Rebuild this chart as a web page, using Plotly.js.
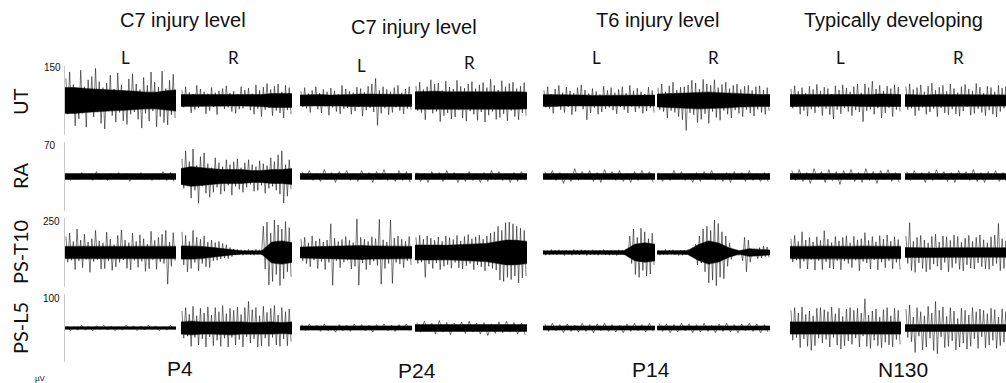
<!DOCTYPE html>
<html><head><meta charset="utf-8">
<script src="https://cdn.plot.ly/plotly-3.0.1.min.js"></script>
<style>html,body{margin:0;padding:0;background:#fff}#chart{width:1006px;height:383px}</style>
</head><body><div id="chart"></div>
<script>
// ---------- data (values in µV) ----------
const groupTitles = ['C7 injury level','C7 injury level','T6 injury level','Typically developing'];
const subjects = ['P4','P24','P14','N130'];
const sides = ['L','R'];
const muscles = ['UT','RA','PS-T10','PS-L5'];
const scaleLabels = ['150','70','250','100'];
const scaleValues = [150,70,250,100];
const unitLabel = 'µV';

// envelope of the dense dark core of each trace (half amplitude), panels: P4 L,R, P24 L,R, P14 L,R, N130 L,R
const utCore = [
  [28,28,26,25,23,22,21,20,18,18,21,23],
  [13,13,12,12,12,12,12,12,13,15,15,15],
  [12,13,13,12,12,13,14,14,14,13,13,13],
  [19,20,20,19,19,19,20,20,19,19,19,18],
  [13,13,12,12,12,11,11,11,11,12,12,12],
  [14,15,16,17,18,18,17,16,14,13,13,13],
  [13,13,12,13,13,12,12,13,13,14,13,13],
  [13,12,12,13,13,13,12,12,13,13,12,12]
];
// successive signed peaks of each trace
const utTrace = [
  [48,-30,62,-25,35,-55,22,-40,66,-28,30,-58,45,-20,52,-36,70,-24,41,-50,28,-62,38,-22,55,-33,25,-47,60,-26,34,-44,21,-52,47,-30,58,-25,36,-41,24,-60,50,-28,33,-45,62,-23,40,-57,29,-35,64,-48,26,-53,44,-31,57,-38],
  [22,-15,30,-12,18,-27,14,-20,33,-16,25,-13,19,-29,15,-22,28,-14,17,-31,21,-13,26,-18,32,-15,16,-24,20,-28,14,-19,30,-17,23,-12,27,-21,15,-30,34,-18,22,-35,29,-20,37,-16,24,-33,31,-22,36,-27,19,-38,33,-21,28,-30],
  [20,-14,28,-17,15,-26,22,-12,30,-19,16,-27,24,-13,19,-32,27,-15,21,-24,14,-29,33,-18,25,-16,20,-30,17,-23,29,-14,26,-34,18,-21,31,-16,36,-25,48,-54,22,-28,30,-17,24,-31,19,-26,28,-15,33,-22,17,-29,25,-18,30,-20],
  [32,-22,40,-26,24,-42,30,-20,45,-28,35,-24,38,-46,22,-33,42,-27,29,-40,25,-36,44,-21,31,-38,27,-45,36,-23,41,-30,26,-43,34,-25,39,-47,28,-32,46,-24,33,-41,23,-37,43,-29,30,-44,37,-22,40,-35,26,-42,31,-27,39,-33],
  [22,-15,30,-18,14,-28,25,-13,33,-20,17,-26,29,-14,21,-31,16,-24,28,-12,34,-19,23,-42,15,-27,26,-16,20,-30,13,-25,31,-18,22,-15,28,-21,17,-29,24,-14,30,-20,16,-27,33,-13,21,-25,27,-17,19,-28,14,-23,29,-16,22,-26],
  [28,-20,36,-24,19,-38,32,-22,40,-26,23,-35,29,-42,30,-65,34,-27,44,-31,38,-48,25,-41,46,-29,36,-50,33,-24,45,-37,28,-43,35,-22,40,-30,26,-38,33,-21,36,-28,24,-35,31,-20,33,-27,22,-34,30,-19,32,-26,23,-30,28,-22],
  [25,-17,32,-14,20,-30,28,-22,16,-34,31,-19,24,-27,35,-15,21,-33,29,-18,26,-31,14,-40,32,-20,23,-29,34,-16,27,-24,19,-33,30,-21,36,-25,17,-46,36,-22,28,-19,42,-30,25,-17,33,-38,21,-27,31,-16,26,-35,34,-20,29,-24],
  [30,-20,36,-17,24,-33,28,-22,34,-15,19,-30,31,-25,38,-18,22,-35,29,-16,33,-27,20,-31,36,-19,26,-29,17,-34,30,-23,35,-14,25,-32,21,-28,37,-18,29,-26,16,-33,31,-21,28,-30,19,-36,33,-24,27,-17,30,-29,22,-31,26,-20]
];
const raCore = [
  [3,3,3,3,3,3,3,3,3,3,3,3],
  [8,10,9,8,7,7,7,6,6,7,7,8],
  [3,3,3,3,3,3,3,3,3,3,3,3],
  [3,3,3,3,3,3,3,3,3,3,3,3],
  [3,3,3,3,3,3,3,3,3,3,3,3],
  [3,3,3,3,3,3,3,3,3,3,3,3],
  [3,3,3,3,3,3,3,3,3,3,3,3],
  [3,3,3,3,3,3,3,3,3,3,3,3]
];
const raTrace = [
  [3,-4,2,-3,4,-2,3,-4,5,-3,2,-4,3,-2,4,-3,3,-5,2,-3,4,-3,2,-4,3,-3,5,-4,4,-5],
  [18,-12,26,-9,15,-22,28,-14,11,-27,20,-10,24,-17,13,-21,9,-16,19,-11,14,-18,10,-15,17,-9,12,-19,15,-10,18,-13,9,-16,14,-11,17,-8,12,-15,10,-14,16,-9,13,-17,11,-12,19,-10,15,-14,22,-18,26,-27,12,-20,17,-13],
  [5,-3,6,-4,3,-5,7,-3,4,-6,5,-2,6,-4,3,-5,6,-3,4,-6,5,-3,7,-4,3,-5,6,-4,5,-6],
  [4,-5,3,-6,5,-3,4,-5,6,-3,4,-6,3,-5,5,-4,3,-6,4,-5,6,-3,5,-4,3,-6,4,-5,5,-4],
  [5,-3,6,-4,4,-7,3,-5,8,-4,5,-3,6,-5,4,-6,7,-3,5,-4,6,-5,3,-6,5,-4,6,-3,5,-6],
  [4,-5,3,-4,6,-3,5,-4,3,-6,4,-5,5,-3,6,-4,3,-5,4,-6,5,-3,4,-5,6,-4,3,-5,4,-5],
  [6,-4,7,-5,4,-7,8,-3,5,-6,7,-4,5,-8,6,-3,7,-5,4,-6,8,-4,5,-7,6,-3,7,-5,4,-6],
  [5,-4,6,-3,4,-6,5,-4,7,-3,5,-5,4,-6,6,-3,5,-4,7,-5,4,-6,5,-3,6,-5,4,-6,5,-4]
];
const t10Core = [
  [22,22,21,21,22,22,22,21,21,22,22,22],
  [24,24,22,19,14,9,6,6,6,38,42,36],
  [20,21,22,22,23,24,25,24,23,23,22,22],
  [27,28,27,26,27,29,31,33,40,45,44,40],
  [6,6,6,5,6,6,6,6,7,30,35,30],
  [6,6,6,7,28,42,34,17,6,14,11,9],
  [22,21,22,23,22,21,22,23,22,21,22,22],
  [18,17,17,16,17,17,16,17,17,17,16,17]
];
const t10Trace = [
  [58,-35,70,-28,40,-62,85,-30,45,-55,66,-25,38,-72,50,-33,80,-26,42,-60,35,-58,74,-30,48,-65,28,-52,62,-36,82,-27,45,-57,36,-63,70,-29,40,-54,64,-32,50,-68,30,-59,77,-26,44,-61,55,-34,66,-40,80,-115,38,-50,72,-30],
  [75,-45,62,-70,40,-58,80,-36,55,-66,48,-40,60,-52,38,-55,45,-30,36,-28,40,-24,33,-20,28,-22,18,-15,12,-9,11,-8,10,-10,9,-7,11,-9,8,-10,12,-8,10,-9,95,-60,110,-118,70,-105,118,-80,100,-120,85,-95,112,-70,90,-88],
  [48,-30,55,-40,35,-52,60,-28,42,-58,50,-33,38,-62,45,-36,104,-119,52,-30,40,-55,47,-35,58,-28,44,-60,36,-50,122,-118,55,-38,48,-62,40,-45,57,-32,50,-47,120,-115,46,-58,38,-40,118,-112,52,-36,60,-42,48,-55,40,-30,58,-45],
  [55,-40,62,-35,48,-90,60,-42,52,-58,45,-38,56,-62,40,-50,60,-44,54,-57,47,-36,62,-55,42,-60,58,-48,65,-40,50,-62,57,-45,63,-52,48,-66,60,-50,70,-58,75,-64,95,-100,80,-105,108,-90,110,-98,104,-85,95,-110,88,-92,80,-85],
  [8,-10,6,-9,11,-7,9,-8,10,-6,7,-11,9,-8,6,-10,11,-7,8,-9,10,-6,9,-11,7,-8,10,-9,6,-10,8,-7,11,-9,7,-10,9,-8,6,-11,10,-7,8,-9,12,-10,60,-40,85,-80,55,-90,88,-65,75,-85,50,-78,70,-45],
  [8,-10,7,-9,11,-8,9,-7,10,-9,6,-11,8,-10,9,-7,11,-8,10,-12,30,-45,60,-38,85,-70,95,-110,80,-100,118,-120,105,-90,75,-95,60,-50,35,-25,12,-9,10,-11,8,-30,55,-70,45,-35,12,-10,9,-22,18,-20,24,-15,20,-18],
  [50,-35,62,-28,40,-58,75,-32,45,-60,55,-26,38,-64,57,-30,44,-62,79,-34,48,-56,36,-60,58,-29,42,-63,55,-31,61,-40,35,-55,59,-28,46,-66,50,-33,72,-38,44,-60,58,-27,39,-63,61,-35,48,-55,64,-30,41,-59,57,-36,47,-62],
  [60,-40,108,-65,40,-72,55,-38,62,-58,45,-70,35,-62,58,-42,66,-50,38,-64,60,-36,57,-70,44,-55,63,-40,58,-61,37,-66,52,-45,62,-57,40,-60,55,-38,64,-52,46,-59,35,-61,57,-48,63,-40,105,-66,50,-58,42,-62,55,-45,60,-50]
];
const l5Core = [
  [2,2,2,2,2,2,2,2,2,2,2,2],
  [9,10,9,9,9,10,9,8,9,9,8,9],
  [3,3,3,3,3,3,3,3,3,3,3,3],
  [5,5,5,5,5,5,5,5,5,5,5,5],
  [3,3,3,3,3,3,3,3,3,3,3,3],
  [3,3,3,3,3,3,3,3,3,3,3,3],
  [9,9,8,9,9,8,9,9,9,8,9,9],
  [5,5,5,5,5,5,5,5,5,5,5,5]
];
const l5Trace = [
  [3,-4,2,-3,4,-3,2,-4,3,-2,4,-3,3,-4,2,-3,4,-2,3,-4,3,-3,4,-2,3,-4,2,-3,4,-3],
  [25,-15,30,-12,20,-27,32,-14,18,-25,29,-16,22,-28,31,-13,19,-26,30,-18,24,-27,33,-15,21,-28,29,-14,26,-25,31,-17,20,-28,30,-13,39,-22,27,-16,30,-28,18,-26,32,-15,23,-27,29,-14,33,-25,19,-27,30,-16,24,-26,28,-20],
  [5,-4,6,-3,4,-5,6,-4,3,-6,5,-4,4,-5,6,-3,5,-4,4,-6,5,-3,6,-4,4,-5,5,-3,6,-4],
  [8,-6,10,-5,7,-9,11,-6,8,-10,7,-5,9,-8,10,-6,7,-9,8,-11,6,-8,9,-7,10,-6,8,-9,7,-10],
  [6,-5,7,-4,5,-7,6,-5,4,-6,7,-5,5,-7,6,-4,7,-5,5,-6,4,-7,6,-5,7,-4,5,-6,7,-5],
  [7,-5,6,-7,5,-6,7,-4,6,-7,5,-6,7,-5,4,-7,6,-5,7,-6,5,-7,6,-4,7,-5,6,-7,5,-6],
  [26,-18,30,-14,22,-29,31,-16,20,-27,25,-33,18,-26,29,-15,30,-22,27,-17,24,-28,31,-14,21,-25,29,-31,17,-26,28,-19,30,-24,26,-15,29,-28,22,-12,43,-27,19,-30,25,-18,28,-26,16,-29,27,-21,30,-25,18,-28,29,-17,26,-24],
  [28,-14,34,-20,16,-36,30,-12,24,-32,18,-28,32,-15,22,-33,39,-38,26,-13,31,-29,17,-27,30,-19,25,-32,14,-28,29,-22,26,-31,19,-27,30,-16,24,-30,28,-13,26,-29,21,-25,29,-18,27,-30,16,-26,28,-21,24,-27,29,-15,25,-28]
];
const coreByRow = [utCore, raCore, t10Core, l5Core];
const traceByRow = [utTrace, raTrace, t10Trace, l5Trace];

// ---------- layout geometry (pixels) ----------
const W = 1006, H = 383;
const fx = x => x / W, fy = y => 1 - y / H;
const panelX = [[65,176],[181,292],[300,412],[415,527],[543,655],[657,770],[790,901],[905,1016]];
const rowY = [[66,135],[142,211],[218,287],[294,362]];

const data = [];
const layout = {
  width: W, height: H, margin: {l:0,r:0,t:0,b:0},
  paper_bgcolor: '#fff', plot_bgcolor: 'rgba(0,0,0,0)',
  showlegend: false, annotations: []
};

let k = 0;
for (let r = 0; r < 4; r++) {
  for (let p = 0; p < 8; p++) {
    k++;
    const xa = 'xaxis' + (k === 1 ? '' : k), ya = 'yaxis' + (k === 1 ? '' : k);
    const xr = 'x' + (k === 1 ? '' : k), yr = 'y' + (k === 1 ? '' : k);
    const [x0, x1] = panelX[p];
    const x1c = Math.min(x1, W);
    const frac = (x1c - x0) / (x1 - x0);
    layout[xa] = {domain: [fx(x0), fx(x1c)], range: [0, frac], visible: false, fixedrange: true};
    const half = scaleValues[r] / 2;
    layout[ya] = {domain: [fy(rowY[r][1]), fy(rowY[r][0])], range: [-half, half],
      showline: true, linecolor: '#c9c9c9', linewidth: 1.5, showgrid: false, zeroline: false,
      showticklabels: false, ticks: '', fixedrange: true};

    const core = coreByRow[r][p];
    const n = core.length;
    const xs = core.map((_, i) => i / (n - 1));
    data.push({
      type: 'scatter', mode: 'lines', xaxis: xr, yaxis: yr,
      x: xs.concat(xs.slice().reverse()),
      y: core.concat(core.slice().reverse().map(v => -v)),
      fill: 'toself', fillcolor: '#000', line: {width: 1.2, color: 'rgba(0,0,0,0.45)'}, hoverinfo: 'skip'
    });
    const tr = traceByRow[r][p];
    const m = tr.length;
    data.push({
      type: 'scatter', mode: 'lines', xaxis: xr, yaxis: yr,
      x: tr.map((_, i) => (i + 0.5) / m), y: tr,
      line: {width: 0.85, color: 'rgba(0,0,0,0.62)'}, hoverinfo: 'skip'
    });
  }
}

function ann(text, x, y, size, family, extra) {
  layout.annotations.push(Object.assign({
    text: text, x: fx(x), y: fy(y), xref: 'paper', yref: 'paper',
    xanchor: 'center', yanchor: 'middle', showarrow: false,
    font: {size: size, family: family, color: '#111'}
  }, extra || {}));
}
const titlePos = [[183,20],[414,27],[657,20],[893,20]];
groupTitles.forEach((t, i) => ann(t, titlePos[i][0], titlePos[i][1], 20, 'Liberation Sans, Arial, sans-serif'));
const sidePos = [[125,58],[233,58],[361,66],[469,62],[596,58],[713,58],[840,58],[958,58]];
sidePos.forEach((s, i) => ann(sides[i % 2], s[0], s[1], 17, 'Lato, Open Sans, sans-serif'));
const rowLabelY = [102,176,252,328];
muscles.forEach((m, i) => ann(m, 20, rowLabelY[i], 20, 'Lato, Open Sans, sans-serif', {textangle: -90}));
const scalePos = [[52,67],[50,145],[51,221],[51,298]];
scaleLabels.forEach((s, i) => ann(s, scalePos[i][0], scalePos[i][1], 10, 'Liberation Sans, Arial, sans-serif'));
ann(unitLabel, 40, 378, 8, 'Liberation Sans, Arial, sans-serif');
const subjPos = [[180,368],[417,370],[651,369],[903,369]];
subjects.forEach((s, i) => ann(s, subjPos[i][0], subjPos[i][1], 21, 'Liberation Sans, Arial, sans-serif'));

Plotly.newPlot('chart', data, layout, {staticPlot: true, displayModeBar: false});
</script>
</body></html>
